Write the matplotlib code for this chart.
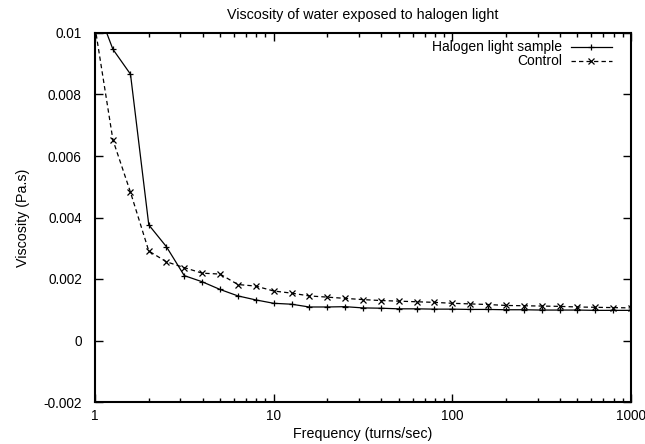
import matplotlib
matplotlib.use('Agg')
import matplotlib.pyplot as plt
from matplotlib.ticker import FixedLocator, LogLocator, NullFormatter

plt.rcParams['font.family'] = ['Liberation Sans', 'DejaVu Sans']

# frequency (turns/sec), 10 points per decade
freq = [1, 1.26, 1.58, 2, 2.51, 3.16, 3.98, 5.01, 6.31, 7.94,
        10, 12.6, 15.8, 20, 25.1, 31.6, 39.8, 50.1, 63.1, 79.4,
        100, 126, 158, 200, 251, 316, 398, 501, 631, 794, 1000]

halogen = [0.0110, 0.00947, 0.00866, 0.00376, 0.00305, 0.00211, 0.00191, 0.00166, 0.00145, 0.00132,
           0.00121, 0.00118, 0.00109, 0.00109, 0.00110, 0.00106, 0.00105, 0.00103, 0.00103, 0.00102,
           0.00102, 0.00101, 0.00101, 0.00100, 0.00100, 0.00099, 0.00099, 0.00099, 0.00098, 0.00098, 0.00098]

control = [0.0102, 0.00652, 0.00482, 0.00291, 0.00256, 0.00237, 0.00219, 0.00216, 0.00182, 0.00177,
           0.00161, 0.00154, 0.00145, 0.00141, 0.00137, 0.00133, 0.00130, 0.00128, 0.00126, 0.00124,
           0.00121, 0.00119, 0.00117, 0.00114, 0.00113, 0.00112, 0.00111, 0.00109, 0.00108, 0.00107, 0.00106]

yticks = [-0.002, 0, 0.002, 0.004, 0.006, 0.008, 0.01]
ylabels = ['-0.002', '0', '0.002', '0.004', '0.006', '0.008', '0.01']

fig = plt.figure(figsize=(6.45, 4.44), dpi=100)
ax = fig.add_axes([95/645, 1-402/444, 536/645, 369/444])

ax.plot(freq, halogen, color='black', lw=0.9, marker='+', ms=5, mew=0.9)
ax.plot(freq, control, color='black', lw=0.9, ls=(0, (3.5, 2.5)), marker='x', ms=4, mew=0.9)

ax.set_xscale('log')
ax.set_xlim(1, 1000)
ax.set_ylim(-0.002, 0.01)
ax.yaxis.set_major_locator(FixedLocator(yticks))
ax.set_yticklabels(ylabels)
ax.xaxis.set_major_locator(FixedLocator([1, 10, 100, 1000]))
ax.set_xticklabels(['1', '10', '100', '1000'])
ax.xaxis.set_minor_locator(LogLocator(base=10, subs=range(2, 10)))
ax.xaxis.set_minor_formatter(NullFormatter())

ax.tick_params(which='both', direction='in', top=True, right=True, labelsize=9.8, width=1)
ax.tick_params(which='major', length=6)
ax.tick_params(which='minor', length=3)
ax.tick_params(axis='x', which='major', pad=5)
ax.tick_params(axis='y', which='major', pad=9.5)
for s in ax.spines.values():
    s.set_linewidth(1.5)

ax.set_xlabel('Frequency (turns/sec)', fontsize=10.3, labelpad=3)
ax.set_ylabel('Viscosity (Pa.s)', fontsize=10.3, labelpad=10)
ax.set_title('Viscosity of water exposed to halogen light', fontsize=10.3, pad=10)

# gnuplot-style key: label right-aligned, sample on the right
names = ['Halogen light sample', 'Control']
styles = [dict(ls='-', marker='+', ms=5), dict(ls=(0, (3.5, 2.5)), marker='x', ms=4)]
for i, (name, st) in enumerate(zip(names, styles)):
    yy = 0.962 - i * 0.038
    ax.text(0.871, yy, name, transform=ax.transAxes, ha='right', va='center', fontsize=10)
    ax.plot([0.8875, 0.964], [yy, yy], transform=ax.transAxes, color='black', lw=0.9,
            ls=st['ls'], clip_on=False)
    ax.plot([0.925], [yy], transform=ax.transAxes, color='black', marker=st['marker'],
            ms=st['ms'], mew=0.9, clip_on=False)

fig.savefig('out.png', dpi=100)
